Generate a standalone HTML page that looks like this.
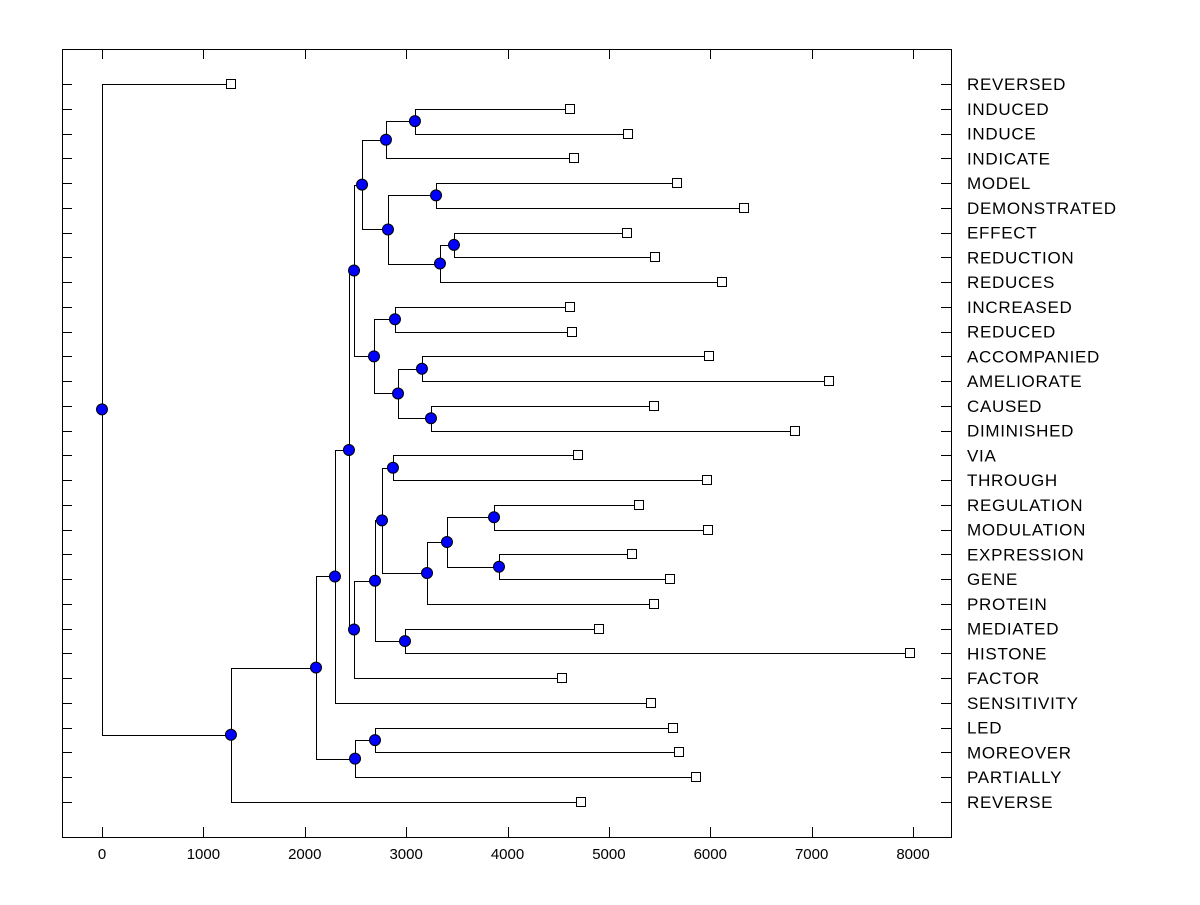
<!DOCTYPE html>
<html><head><meta charset="utf-8"><style>
body{margin:0;background:#fff}
svg text{font-family:"Liberation Sans",Arial,sans-serif;fill:#000}
</style></head><body>
<svg id="chart" width="1200" height="900" xmlns="http://www.w3.org/2000/svg">
<g id="g"></g>
</svg>
<script>
const leafLabels=["REVERSED","INDUCED","INDUCE","INDICATE","MODEL","DEMONSTRATED","EFFECT","REDUCTION","REDUCES","INCREASED","REDUCED","ACCOMPANIED","AMELIORATE","CAUSED","DIMINISHED","VIA","THROUGH","REGULATION","MODULATION","EXPRESSION","GENE","PROTEIN","MEDIATED","HISTONE","FACTOR","SENSITIVITY","LED","MOREOVER","PARTIALLY","REVERSE"];
const leafHeights=[1272,4616,5188,4656,5672,6333,5179,5455,6116,4616,4636,5987,7171,5445,6836,4695,5968,5297,5977,5228,5603,5445,4902,7970,4537,5415,5632,5692,5859,4725];
// merges: [childA, childB, height]; leaves are "L#", internal nodes "N#"
const merges=[
["L1","L2",3087],["N0","L3",2801],["L4","L5",3295],["L6","L7",3472],["N3","L8",3334],
["N2","N4",2821],["N1","N5",2565],["L9","L10",2890],["L11","L12",3156],["L13","L14",3245],
["N8","N9",2920],["N7","N10",2683],["N6","N11",2486],["L15","L16",2870],["L17","L18",3867],
["L19","L20",3916],["N14","N15",3403],["N16","L21",3206],["N13","N17",2762],["L22","L23",2989],
["N18","N19",2693],["N20","L24",2486],["N12","N21",2436],["N22","L25",2298],["L26","L27",2693],
["N24","L28",2496],["N23","N25",2111],["N26","L29",1272],["L0","N27",0]];
const xTicks=[0,1000,2000,3000,4000,5000,6000,7000,8000];

const NS="http://www.w3.org/2000/svg";
const g=document.getElementById('g');
const X0=62,X1=951,Y0=49,Y1=837;
const xs=v=>102+v*(913-102)/8000;
const ys=i=>84+i*(802-84)/29;
function el(t,a,p){const e=document.createElementNS(NS,t);for(const k in a)e.setAttribute(k,a[k]);(p||g).appendChild(e);return e;}
const lineG=el('g',{stroke:'#000','stroke-width':1,fill:'none'});


const ax=el('rect',{x:X0+0.5,y:Y0+0.5,width:X1-X0,height:Y1-Y0,fill:'none',stroke:'#000'});


xTicks.forEach(v=>{
 const x=Math.round(xs(v))+0.5;
 el('line',{x1:x,x2:x,y1:Y1,y2:Y1-10,stroke:'#000'});
 el('line',{x1:x,x2:x,y1:Y0,y2:Y0+10,stroke:'#000'});
 const t=el('text',{x:xs(v),y:859,'font-size':15,'text-anchor':'middle'});
 t.textContent=v;
 
 
});
leafLabels.forEach((n,i)=>{
 const y=Math.round(ys(i))+0.5;
 el('line',{x1:X0,x2:X0+10,y1:y,y2:y,stroke:'#000'});
 el('line',{x1:X1-10,x2:X1,y1:y,y2:y,stroke:'#000'});
 const t=el('text',{x:967,y:ys(i)+6,'font-size':17,'letter-spacing':0.7});
 t.textContent=n;
 
 
});
const pos={};
leafHeights.forEach((h,i)=>{pos["L"+i]={x:xs(h),y:ys(i)};});
const dots=[];
merges.forEach((m,i)=>{
 const a=pos[m[0]],b=pos[m[1]],x=xs(m[2]),y=(a.y+b.y)/2;
 pos["N"+i]={x,y};
 const xx=Math.round(x)+0.5;
 el('path',{d:`M${a.x},${Math.round(a.y)+0.5}H${xx}V${Math.round(b.y)+0.5}H${b.x}`},lineG);
 dots.push([x,y]);
});
leafHeights.forEach((h,i)=>{
 const r=el('rect',{x:Math.round(xs(h))-4.5,y:Math.round(ys(i))-4.5,width:9,height:9,fill:'#fff',stroke:'#000'});
 
 
});
dots.forEach(d=>{
 const c=el('circle',{cx:d[0],cy:d[1],r:5.5,fill:'#0000ff',stroke:'#000','stroke-width':1});
 
 
});
</script>
</body></html>
